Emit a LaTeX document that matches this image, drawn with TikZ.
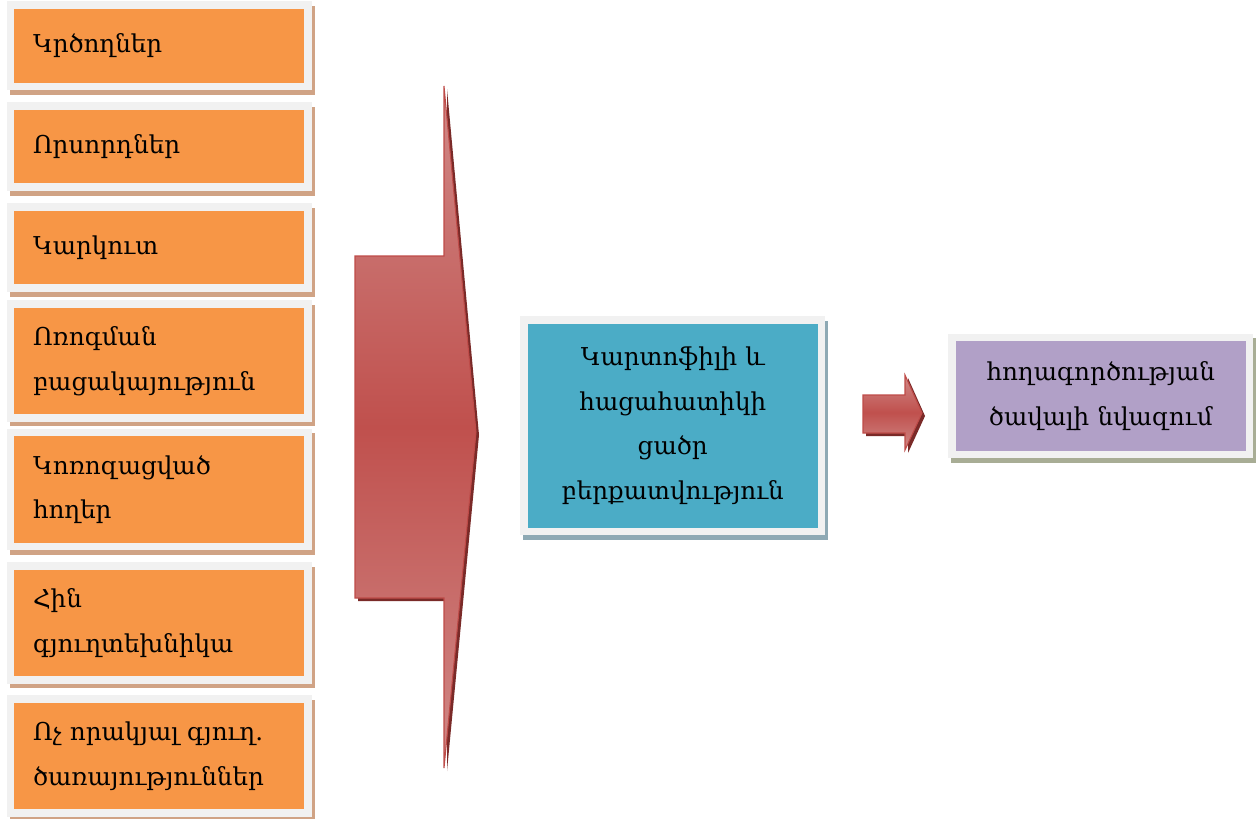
\documentclass[tikz,border=0pt]{standalone}
\usepackage{fontspec}
\newfontfamily\armfont{DejaVu Serif}
\usetikzlibrary{shadows}
\definecolor{orfill}{HTML}{F79646}
\definecolor{orshadow}{HTML}{D0A385}
\definecolor{frame}{HTML}{F1F1F1}
\definecolor{tealfill}{HTML}{4BACC6}
\definecolor{tealshadow}{HTML}{8EA9B4}
\definecolor{lilac}{HTML}{B1A0C7}
\definecolor{lilacshadow}{HTML}{A8AD95}
\definecolor{redmid}{HTML}{C0504D}
\definecolor{redlight}{HTML}{D08A88}
\definecolor{redline}{HTML}{BE4B48}
\definecolor{reddark}{HTML}{7A2A28}
\begin{document}
\begin{tikzpicture}[x=0.02cm,y=-0.02cm,
  box/.style={draw=frame,line width=0.15cm,minimum width=5.95cm,
    font=\armfont\fontsize{14}{25.5}\selectfont},
  cause/.style={box,fill=orfill,text width=5.05cm,inner xsep=0.45cm,align=left,
    general shadow={fill=orshadow,draw=orshadow,line width=0.15cm,shadow xshift=1.6pt,shadow yshift=-2.6pt}},
  blockarrow/.style={draw=redline,line width=0.6pt,top color=redlight,bottom color=redlight,middle color=redmid}]
\useasboundingbox (0,0) rectangle (1257,818);
\node[cause,minimum height=1.63cm] (k1) at (159.25,45.75) {Կրծողներ};
\node[cause,minimum height=1.63cm] (k2) at (159.25,146.5) {Որսորդներ};
\node[cause,minimum height=1.63cm] (k3) at (159.25,247.5) {Կարկուտ};
\node[cause,minimum height=2.28cm] (k4) at (159.25,361) {Ոռոգման\\բացակայություն};
\node[cause,minimum height=2.28cm] (k5) at (159.25,489.5) {Կոռոզացված\\հողեր};
\node[cause,minimum height=2.28cm] (k6) at (159.25,623) {Հին\\գյուղտեխնիկա};
\node[cause,minimum height=2.28cm] (k7) at (159.25,756) {Ոչ որակյալ գյուղ.\\ծառայություններ};
\fill[reddark] (358,259) -- (447,259) -- (447,89) -- (479,435) -- (447,771) -- (447,601) -- (358,601) -- cycle;
\draw[blockarrow] (355,256) -- (444,256) -- (444,86) -- (476,432) -- (444,768) -- (444,598) -- (355,598) -- cycle;
\node[box,fill=tealfill,text width=5.05cm,align=center,minimum height=4.23cm,
  general shadow={fill=tealshadow,draw=tealshadow,line width=0.15cm,shadow xshift=1.6pt,shadow yshift=-2.6pt}]
  (low) at (672.75,425.75) {Կարտոֆիլի և\\հացահատիկի\\ցածր\\բերքատվություն};
\fill[reddark] (866,398) -- (908,398) -- (908,378) -- (925,416) -- (908,453) -- (908,436) -- (866,436) -- cycle;
\draw[blockarrow] (863,395) -- (905,395) -- (905,375) -- (922,413) -- (905,450) -- (905,433) -- (863,433) -- cycle;
\node[box,fill=lilac,text width=5.05cm,align=center,minimum height=2.34cm,
  general shadow={fill=lilacshadow,draw=lilacshadow,line width=0.15cm,shadow xshift=1.6pt,shadow yshift=-2.6pt}]
  (drop) at (1100.75,396) {հողագործության\\ծավալի նվազում};
\end{tikzpicture}
\end{document}
